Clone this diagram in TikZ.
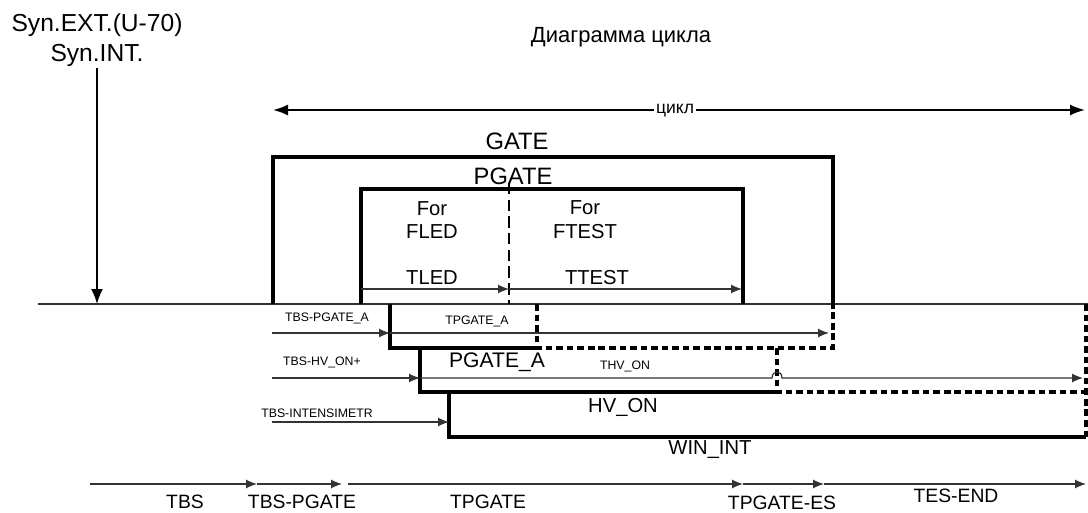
\documentclass[tikz,border=0pt]{standalone}
\usepackage{fontspec}
\setmainfont{Liberation Sans}
\usetikzlibrary{arrows.meta}

\begin{document}
\begin{tikzpicture}[x=0.02cm,y=-0.02cm,>={Latex[length=2.2mm,width=1.8mm]},
  sigline/.style={line width=2.1pt,line join=miter},
  sigdash/.style={line width=2.1pt,dash pattern=on 3.8pt off 2.2pt},
  tarrow/.style={->,line width=0.7pt,black!80},
  biglbl/.style={font=\fontsize{13.5}{16}\selectfont,inner sep=1pt},
  midlbl/.style={font=\fontsize{11.5}{13.6}\selectfont,align=center,inner sep=1pt},
  smalllbl/.style={font=\fontsize{7}{8}\selectfont,inner sep=1pt}]
  \useasboundingbox (0,0) rectangle (1088,513);
  % headings
  \node[biglbl,font=\fontsize{14}{16}\selectfont] (synext) at (97,25) {Syn.EXT.(U-70)};
  \node[biglbl,font=\fontsize{14}{16}\selectfont] (synint) at (97,55) {Syn.INT.};
  \node[biglbl,font=\fontsize{12.5}{15}\selectfont] (title) at (621,37) {Диаграмма цикла};
  % time axis
  \coordinate (ax0) at (38,304);
  \coordinate (ax1) at (1088,304);
  \draw[line width=0.7pt,black!80] (ax0) -- (ax1);
  \coordinate (syn) at (97,304);
  \draw[->,line width=0.9pt,>={Latex[length=3mm,width=2.4mm]}] (synint.south) -- (syn);
  % cycle
  \coordinate (cyc0) at (273,110);
  \coordinate (cyc1) at (1085,110);
  \draw[<->,line width=1.1pt,>={Latex[length=3mm,width=2.2mm]}] (cyc0) -- (cyc1);
  \node[fill=white,inner sep=1pt,font=\fontsize{10}{12}\selectfont] (cyc) at (675,111) {цикл};
  % GATE and PGATE
  \coordinate (gateA) at (273,304);
  \coordinate (gateB) at (833,157);
  \draw[sigline] (gateA) |- (gateB) -- (gateB |- gateA);
  \node[biglbl] (gate) at (517,141) {GATE};
  \coordinate (pgA) at (361,304);
  \coordinate (pgB) at (743,189);
  \draw[sigline] (pgA) |- (pgB) -- (pgB |- pgA);
  \node[biglbl] (pgate) at (513,176) {PGATE};
  \coordinate (split) at (509,183);
  \draw[line width=0.7pt,dash pattern=on 6.5pt off 3pt] (split) -- (split |- ax0);
  \node[midlbl] (forled) at (432,220) {For\\FLED};
  \node[midlbl] (fortest) at (585,220) {For\\FTEST};
  \node[midlbl] (tled) at (432,278) {TLED};
  \node[midlbl] (ttest) at (597,278) {TTEST};
  \coordinate (tl0) at (361,289);
  \coordinate (tl1) at (509,289);
  \coordinate (tl2) at (742,289);
  \draw[tarrow] (tl0) -- (tl1);
  \draw[tarrow] (tl1) -- (tl2);
  % PGATE_A
  \coordinate (paA) at (390,304);
  \coordinate (paB) at (537,348);
  \coordinate (paC) at (833,348);
  \draw[sigline] (paA) |- (paB);
  \draw[sigdash] (paB |- ax0) -- (paB) -- (paC) -- (paC |- ax0);
  \coordinate (ra1) at (272,333);
  \coordinate (ra2) at (829,333);
  \draw[tarrow] (ra1) -- (paA |- ra1);
  \draw[tarrow] (paA |- ra1) -- (ra2);
  \node[smalllbl] (tbspa) at (327,318) {TBS-PGATE\_A};
  \node[smalllbl] (tpga) at (477,321) {TPGATE\_A};
  \node[midlbl,font=\fontsize{12}{14}\selectfont] (pgatea) at (497,362) {PGATE\_A};
  % HV_ON
  \coordinate (hvA) at (420,348);
  \coordinate (hvB) at (777,392);
  \coordinate (hvC) at (1086,392);
  \draw[sigline] (hvA) |- (hvB);
  \draw[sigdash] (hvB |- paB) -- (hvB) -- (hvC);
  \coordinate (rb1) at (272,378);
  \coordinate (rb2) at (1083,378);
  \draw[tarrow] (rb1) -- (hvA |- rb1);
  \draw[tarrow] (hvA |- rb1) -- (772,378) .. controls (772,370) and (782,370) .. (782,378) -- (rb2);
  \node[smalllbl] (tbshv) at (322,362) {TBS-HV\_ON+};
  \node[smalllbl] (thvon) at (625,366) {THV\_ON};
  \node[midlbl] (hvon) at (623,407) {HV\_ON};
  % WIN_INT
  \coordinate (wiA) at (449,392);
  \coordinate (wiB) at (1086,437);
  \draw[sigline] (wiA) |- (wiB);
  \draw[sigdash] (wiB |- ax0) -- (wiB);
  \coordinate (rc1) at (272,422);
  \draw[tarrow] (rc1) -- (wiA |- rc1);
  \node[smalllbl] (tbsint) at (317,413) {TBS-INTENSIMETR};
  \node[midlbl] (winint) at (710,450) {WIN\_INT};
  % sequence of intervals
  \coordinate (k0) at (90,484);
  \coordinate (k1) at (257,484);
  \coordinate (k2) at (342,484);
  \coordinate (k3) at (348,484);
  \coordinate (k4) at (743,484);
  \coordinate (k5) at (824,484);
  \coordinate (k6) at (1086,484);
  \draw[tarrow] (k0) -- (k1);
  \draw[tarrow] (k1) -- (k2);
  \draw[tarrow] (k3) -- (k4);
  \draw[tarrow] (k4) -- (k5);
  \draw[tarrow] (k5) -- (k6);
  \node[midlbl,font=\fontsize{11}{13}\selectfont] (tbs) at (185,502) {TBS};
  \node[midlbl,font=\fontsize{11}{13}\selectfont] (tbspg) at (302,502) {TBS-PGATE};
  \node[midlbl,font=\fontsize{11}{13}\selectfont] (tpg) at (488,502) {TPGATE};
  \node[midlbl,font=\fontsize{11}{13}\selectfont] (tpges) at (782,503) {TPGATE-ES};
  \node[midlbl,font=\fontsize{11}{13}\selectfont] (tesend) at (956,496) {TES-END};
\end{tikzpicture}
\end{document}
